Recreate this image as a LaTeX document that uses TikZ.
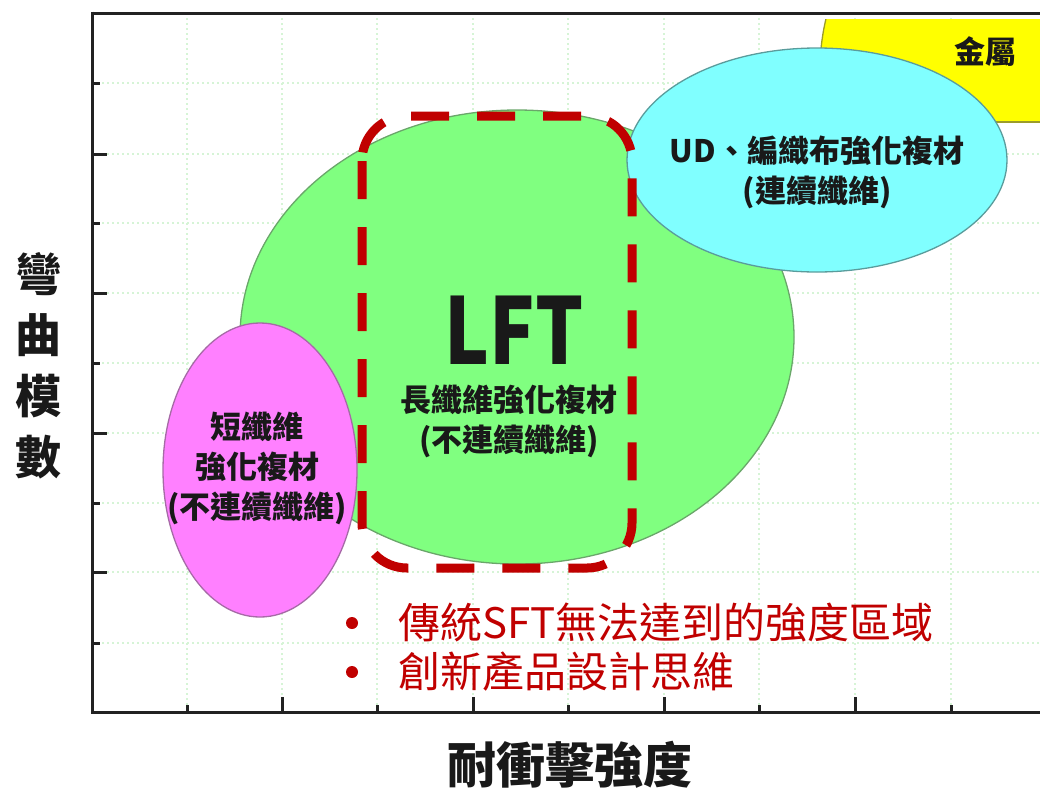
\documentclass[tikz,border=0pt]{standalone}
\usepackage{fontspec}
\newfontfamily\cjk{Noto Sans CJK TC}
\usetikzlibrary{positioning}

\definecolor{lftred}{HTML}{C00000}
\definecolor{gridgreen}{HTML}{D6F4D6}
\definecolor{pinkfill}{HTML}{FF80FF}
\definecolor{pinkedge}{HTML}{A66AA6}
\definecolor{greenfill}{HTML}{80FF80}
\definecolor{greenedge}{HTML}{6AA66A}
\definecolor{cyanfill}{HTML}{80FFFF}
\definecolor{cyanedge}{HTML}{5A9C9C}
\definecolor{metalfill}{HTML}{FFFF00}
\definecolor{metaledge}{HTML}{9C9C2A}
\definecolor{axisgray}{HTML}{222222}

\begin{document}
\begin{tikzpicture}[x=1pt, y=-1pt,
    gridline/.style={gridgreen, line width=1.2pt, dash pattern=on 2pt off 3pt},
    axisline/.style={axisgray, line width=3pt},
    bubble/.style={line width=1.3pt},
    bubbletext/.style={font=\cjk\bfseries\fontsize{31}{40}\selectfont, text=black!90, align=center},
    axistext/.style={font=\cjk\bfseries, text=black!90, align=center},
    notetext/.style={font=\cjk\fontsize{42}{50}\selectfont, text=lftred},
    notedot/.style={circle, fill=lftred, inner sep=0pt, minimum size=12pt}]
\useasboundingbox (0,0) rectangle (1040,793);

% grid
\foreach \y in {83,154,223,293,363,433,503,572,643}
    \draw[gridline] (92,\y) -- (1040,\y);
\foreach \x in {187,282,377,473,568,664,759,855,951}
    \draw[gridline] (\x,13) -- (\x,712);

% metal (clipped at the frame)
\begin{scope}
    \clip (810,19) rectangle (1040,122);
    \filldraw[bubble, fill=metalfill, draw=metaledge] (1000,70) ellipse [x radius=180, y radius=200];
    \draw[bubble, metaledge] (820,122) -- (1040,122);
\end{scope}

% bubbles
\filldraw[bubble, fill=greenfill, draw=greenedge] (517,337) ellipse [x radius=277, y radius=227];
\filldraw[bubble, fill=cyanfill, draw=cyanedge] (817,160) ellipse [x radius=190, y radius=112];
\filldraw[bubble, fill=pinkfill, draw=pinkedge] (260,470) ellipse [x radius=97, y radius=147];

% texts
\node[bubbletext] (metal) at (985,52) {金屬};
\node[bubbletext] (ud) at (817,172) {UD、編織布強化複材\\(連續纖維)};
\node[axistext, font=\cjk\bfseries\fontsize{92}{92}\selectfont] (lft) at (514,330) {\scalebox{0.82}[1]{LFT}};
\node[bubbletext] (lfttext) at (509,421) {長纖維強化複材\\(不連續纖維)};
\node[bubbletext] (sft) at (257,468) {短纖維\\強化複材\\(不連續纖維)};

% LFT region
\draw[lftred, line width=9pt, dash pattern=on 38pt off 28pt, rounded corners=45pt]
    (362,116) rectangle (632,568);

% axes
\draw[axisline] (92,13) -- (1040,13);
\draw[axisline] (92,11.5) -- (92,712) -- (1040,712);
\foreach \y in {154,293,433,572}
    \draw[axisline] (92,\y) -- ++(15,0);
\foreach \y in {83,223,363,503,643}
    \draw[axisline] (92,\y) -- ++(8,0);
\foreach \x in {282,473,664,855}
    \draw[axisline] (\x,712) -- ++(0,-15);
\foreach \x in {187,377,568,759,951}
    \draw[axisline] (\x,712) -- ++(0,-7);

\node[axistext, font=\cjk\bfseries\fontsize{46}{61}\selectfont] (ylabel) at (38,366) {彎\\曲\\模\\數};
\node[axistext, font=\cjk\bfseries\fontsize{49}{49}\selectfont] (xlabel) at (570,765) {耐衝擊強度};

% notes
\node[notedot] (dot1) at (352,623) {};
\node[notetext, anchor=west] (note1) at (395,623) {傳統SFT無法達到的強度區域};
\node[notedot] (dot2) at (352,672) {};
\node[notetext, anchor=west] (note2) at (395,672) {創新產品設計思維};
\end{tikzpicture}
\end{document}
